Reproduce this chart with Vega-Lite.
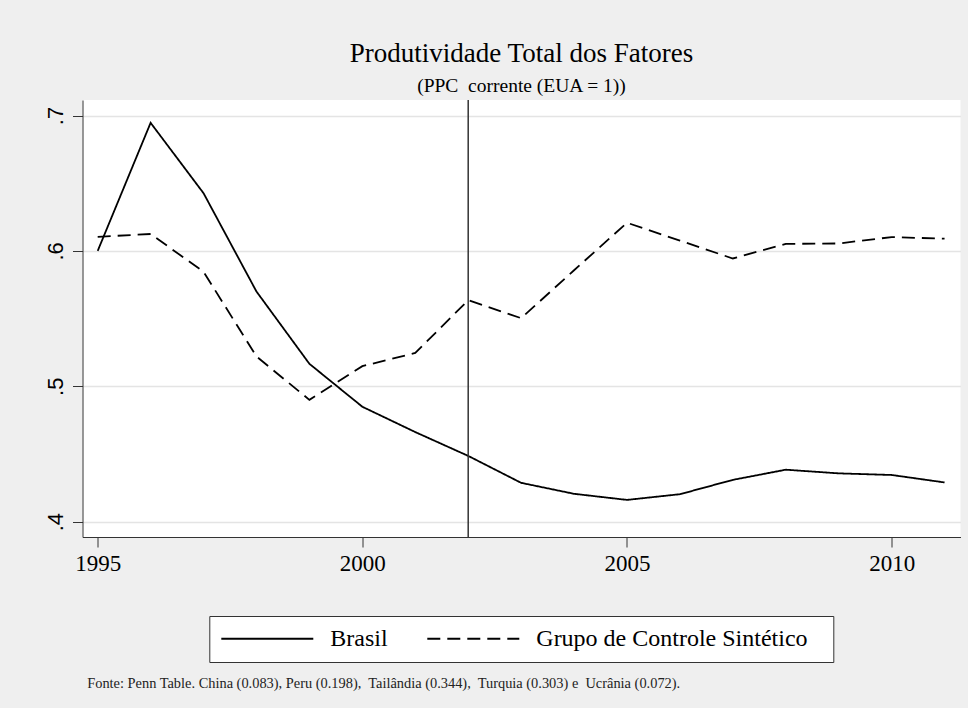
{
  "$schema": "https://vega.github.io/schema/vega-lite/v6.json",
  "width": 878,
  "height": 437,
  "autosize": {"type": "none"},
  "padding": {"left": 82.5, "top": 100, "right": 7.5, "bottom": 171},
  "background": "#efefef",
  "title": {
    "text": "Produtividade Total dos Fatores",
    "subtitle": "(PPC\u00a0 corrente (EUA = 1))",
    "font": "Liberation Serif",
    "fontSize": 27,
    "fontWeight": "normal",
    "color": "black",
    "subtitleFont": "Liberation Serif",
    "subtitleFontSize": 19.5,
    "subtitleColor": "black",
    "subtitlePadding": 9,
    "anchor": "middle",
    "offset": 3
  },
  "config": {
    "view": {"fill": "white", "stroke": null},
    "font": "Liberation Serif"
  },
  "layer": [
    {
      "data": {
        "values": [
          {"year": 1995, "value": 0.600, "series": "Brasil"},
          {"year": 1996, "value": 0.6946, "series": "Brasil"},
          {"year": 1997, "value": 0.6426, "series": "Brasil"},
          {"year": 1998, "value": 0.570, "series": "Brasil"},
          {"year": 1999, "value": 0.5166, "series": "Brasil"},
          {"year": 2000, "value": 0.4849, "series": "Brasil"},
          {"year": 2001, "value": 0.4662, "series": "Brasil"},
          {"year": 2002, "value": 0.4486, "series": "Brasil"},
          {"year": 2003, "value": 0.4287, "series": "Brasil"},
          {"year": 2004, "value": 0.4206, "series": "Brasil"},
          {"year": 2005, "value": 0.4161, "series": "Brasil"},
          {"year": 2006, "value": 0.4203, "series": "Brasil"},
          {"year": 2007, "value": 0.4309, "series": "Brasil"},
          {"year": 2008, "value": 0.4384, "series": "Brasil"},
          {"year": 2009, "value": 0.4357, "series": "Brasil"},
          {"year": 2010, "value": 0.4345, "series": "Brasil"},
          {"year": 2011, "value": 0.429, "series": "Brasil"},
          {"year": 1995, "value": 0.6104, "series": "Grupo de Controle Sintético"},
          {"year": 1996, "value": 0.6125, "series": "Grupo de Controle Sintético"},
          {"year": 1997, "value": 0.5846, "series": "Grupo de Controle Sintético"},
          {"year": 1998, "value": 0.522, "series": "Grupo de Controle Sintético"},
          {"year": 1999, "value": 0.490, "series": "Grupo de Controle Sintético"},
          {"year": 2000, "value": 0.5149, "series": "Grupo de Controle Sintético"},
          {"year": 2001, "value": 0.5246, "series": "Grupo de Controle Sintético"},
          {"year": 2002, "value": 0.5636, "series": "Grupo de Controle Sintético"},
          {"year": 2003, "value": 0.5503, "series": "Grupo de Controle Sintético"},
          {"year": 2004, "value": 0.5857, "series": "Grupo de Controle Sintético"},
          {"year": 2005, "value": 0.6208, "series": "Grupo de Controle Sintético"},
          {"year": 2006, "value": 0.6076, "series": "Grupo de Controle Sintético"},
          {"year": 2007, "value": 0.5944, "series": "Grupo de Controle Sintético"},
          {"year": 2008, "value": 0.6052, "series": "Grupo de Controle Sintético"},
          {"year": 2009, "value": 0.6055, "series": "Grupo de Controle Sintético"},
          {"year": 2010, "value": 0.6102, "series": "Grupo de Controle Sintético"},
          {"year": 2011, "value": 0.609, "series": "Grupo de Controle Sintético"}
        ]
      },
      "mark": {"type": "line", "color": "black", "strokeWidth": 1.8},
      "encoding": {
        "x": {
          "field": "year", "type": "quantitative",
          "scale": {"domain": [1994.713, 2011.301], "nice": false, "zero": false},
          "axis": {
            "values": [1995, 2000, 2005, 2010],
            "format": "d",
            "grid": false,
            "tickSize": 10,
            "tickColor": "#333333",
            "domainColor": "#333333",
            "labelFont": "Liberation Serif",
            "labelFontSize": 23,
            "labelColor": "black",
            "labelPadding": 5,
            "labelFlush": false,
            "title": "Fonte: Penn Table. China (0.083), Peru (0.198),\u00a0 Tailândia (0.344),\u00a0 Turquia (0.303) e\u00a0 Ucrânia (0.072).",
            "titleFont": "Liberation Serif",
            "titleFontSize": 14.4,
            "titleFontWeight": "normal",
            "titleColor": "#222222",
            "titleX": 4.2,
            "titleY": 150,
            "titleAlign": "left",
            "titleAnchor": "start",
            "titleBaseline": "alphabetic"
          }
        },
        "y": {
          "field": "value", "type": "quantitative",
          "scale": {"domain": [0.3887, 0.71145], "nice": false, "zero": false},
          "axis": {
            "values": [0.4, 0.5, 0.6, 0.7],
            "format": ".1~f",
            "labelExpr": "replace(datum.label, '0.', '.')",
            "grid": true,
            "gridColor": "#e4e4e4",
            "gridWidth": 1.5,
            "tickSize": 10,
            "tickColor": "#333333",
            "domainColor": "#333333",
            "labelAngle": 270,
            "labelAlign": "center",
            "labelBaseline": "alphabetic",
            "labelFont": "Liberation Sans",
            "labelFontSize": 22,
            "labelColor": "black",
            "labelPadding": 10,
            "labelFlush": false,
            "title": null
          }
        },
        "strokeDash": {
          "field": "series", "type": "nominal",
          "scale": {
            "domain": ["Brasil", "Grupo de Controle Sintético"],
            "range": [[1, 0], [13, 7]]
          },
          "legend": {
            "orient": "none",
            "legendX": 126.8,
            "legendY": 516,
            "direction": "horizontal",
            "title": "\u00a0",
            "titleOrient": "right",
            "titleFontSize": 20,
            "titlePadding": 15,
            "fillColor": "white",
            "strokeColor": "#333333",
            "padding": 11,
            "symbolType": "stroke",
            "symbolSize": 8464,
            "symbolStrokeWidth": 1.8,
            "symbolStrokeColor": "black",
            "clipHeight": 23,
            "labelFont": "Liberation Serif",
            "labelFontSize": 24,
            "labelColor": "black",
            "labelOffset": 16,
            "labelLimit": 400,
            "columnPadding": 38
          }
        }
      }
    },
    {
      "data": {"values": [{"year": 2002}]},
      "mark": {"type": "rule", "color": "#333333", "strokeWidth": 1.5},
      "encoding": {
        "x": {"field": "year", "type": "quantitative"}
      }
    }
  ]
}
